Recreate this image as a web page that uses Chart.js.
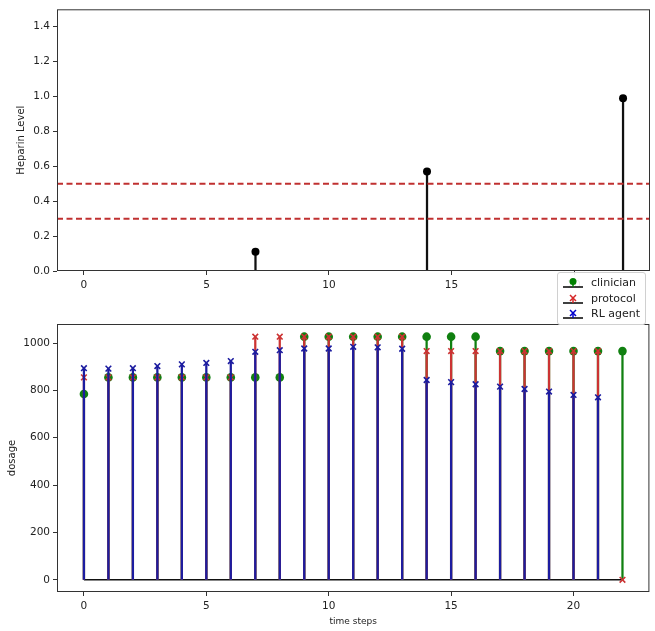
<!DOCTYPE html>
<html>
<head>
<meta charset="utf-8">
<script src="https://cdn.jsdelivr.net/npm/chart.js@4.4.0/dist/chart.umd.min.js"></script>
<style>
  body { margin: 0; background: #fff; }
  #wrap { position: relative; width: 655px; height: 631px; }
  canvas { position: absolute; left: 0; }
  #heparin { top: 0; }
  #dosage { top: 300px; }
  #legend {
    position: absolute; left: 557px; top: 272px; width: 87px;
    background: rgba(255,255,255,0.9); border: 1px solid #d0d0d0; border-radius: 3px;
    font: 11px "DejaVu Sans", sans-serif; color: #222; padding: 2px 0 2px 0; z-index: 2;
  }
  #legend div { height: 15.5px; line-height: 15.5px; white-space: nowrap; }
  #legend svg { vertical-align: middle; margin: 0 7px 0 4px; }
</style>
</head>
<body>
<div id="wrap">
  <canvas id="heparin" width="655" height="300"></canvas>
  <canvas id="dosage" width="655" height="331"></canvas>
  <div id="legend">
    <div><svg width="22" height="12"><line x1="1" y1="10" x2="21" y2="10" stroke="#000" stroke-width="1.5"/><line x1="11" y1="5" x2="11" y2="10" stroke="#008000" stroke-width="1.5"/><circle cx="11" cy="4.5" r="3.5" fill="#008000"/></svg>clinician</div>
    <div><svg width="22" height="12"><line x1="1" y1="10" x2="21" y2="10" stroke="#000" stroke-width="1.5"/><line x1="11" y1="5" x2="11" y2="10" stroke="#d62728" stroke-width="1.5"/><path d="M8 2 L14 8 M14 2 L8 8" stroke="#d62728" stroke-width="1.5"/></svg>protocol</div>
    <div><svg width="22" height="12"><line x1="1" y1="10" x2="21" y2="10" stroke="#000" stroke-width="1.5"/><line x1="11" y1="5" x2="11" y2="10" stroke="#0000cc" stroke-width="1.5"/><path d="M8 2 L14 8 M14 2 L8 8" stroke="#0000cc" stroke-width="1.5"/></svg>RL agent</div>
  </div>
</div>
<script>
// time axis
const xTicks = [0, 5, 10, 15, 20];
const steps = [0, 1, 2, 3, 4, 5, 6, 7, 8, 9, 10, 11, 12, 13, 14, 15, 16, 17, 18, 19, 20, 21, 22];

// heparin measurements (only at some steps)
const heparinSteps = [7, 14, 22];
const heparinLevel = [0.11, 0.57, 0.99];
const heparinTicks = [0, 0.2, 0.4, 0.6, 0.8, 1.0, 1.2, 1.4];
const targetRange = [0.3, 0.5];

// dosage per step
const clinician = [785, 855, 855, 855, 855, 855, 855, 855, 855, 1027, 1027, 1027, 1027, 1027,
  1027, 1027, 1027, 966, 966, 966, 966, 966, 966];
const protocol = [855, 855, 855, 855, 855, 855, 855, 1027, 1027, 1027, 1027, 1027, 1027, 1027,
  966, 966, 966, 966, 966, 966, 966, 966, 0];
const rlAgent = [894, 892, 894, 903, 910, 916, 924, 963, 970, 977, 977, 984, 982, 976,
  844, 835, 826, 816, 806, 795, 781, 771];
const dosageTicks = [0, 200, 400, 600, 800, 1000];

const GREEN = '#108010';
const RED = '#cc3333';
const BLUE = '#1c1ca0';
const FONT = { family: 'DejaVu Sans', size: 10.5 };

const pts = (xs, ys) => ys.map((y, i) => ({ x: xs[i], y }));

// matplotlib-like frame around the plot area
const boxPlugin = {
  id: 'box',
  afterDatasetsDraw(chart) {
    const { ctx, chartArea: a } = chart;
    ctx.save();
    ctx.strokeStyle = '#333';
    ctx.lineWidth = 1;
    ctx.strokeRect(a.left + 0.5, a.top + 0.5, a.right - a.left - 1, a.bottom - a.top - 1);
    ctx.restore();
  }
};

function xAxis(height, title) {
  return {
    type: 'linear', min: -1.1, max: 23.1, offset: false,
    grid: { offset: false, drawOnChartArea: false, drawTicks: true, tickLength: 4, color: '#333' },
    border: { display: false },
    ticks: { font: FONT, color: '#222', padding: 4 },
    afterBuildTicks: s => { s.ticks = xTicks.map(v => ({ value: v })); },
    afterFit: s => { s.height = height; },
    title: title
  };
}

function yAxis(min, max, ticks, fmt, title, pad) {
  return {
    min, max,
    grid: { drawOnChartArea: false, drawTicks: true, tickLength: 4, color: '#333' },
    border: { display: false },
    ticks: { font: FONT, color: '#222', padding: 3, callback: fmt },
    afterBuildTicks: s => { s.ticks = ticks.map(v => ({ value: v })); },
    afterFit: s => { s.width = 57; },
    title: { display: true, text: title, font: { family: 'DejaVu Sans', size: 10 }, color: '#222',
      padding: { top: pad, bottom: 0 } }
  };
}

const common = {
  responsive: false,
  animation: false,
  plugins: { legend: { display: false }, tooltip: { enabled: false } }
};

function stem(xs, ys, color, order) {
  return { type: 'bar', data: pts(xs, ys), backgroundColor: color, borderWidth: 0,
    barThickness: 1.6, grouped: false, order };
}
function markers(xs, ys, color, style, r, order) {
  return { type: 'scatter', data: pts(xs, ys), pointStyle: style, pointRadius: r,
    backgroundColor: color, borderColor: color, borderWidth: style === 'circle' ? 0 : 1.6, order };
}
function hline(x0, x1, y, color, width, dash, order) {
  return { type: 'line', data: [{ x: x0, y }, { x: x1, y }], borderColor: color, borderWidth: width,
    borderDash: dash, pointRadius: 0, order };
}

new Chart(document.getElementById('heparin'), {
  type: 'bar',
  data: {
    datasets: [
      hline(-1.1, 23.1, targetRange[1], '#c03030', 2, [6, 3.5], 0),
      hline(-1.1, 23.1, targetRange[0], '#c03030', 2, [6, 3.5], 0),
      markers(heparinSteps, heparinLevel, '#000', 'circle', 4, 1),
      stem(heparinSteps, heparinLevel, '#111', 2),
      hline(steps[0], steps[steps.length - 1], 0, '#111', 2, [], 3)
    ]
  },
  options: {
    ...common,
    layout: { padding: { top: 3, right: 5, left: 0, bottom: 0 } },
    scales: {
      x: xAxis(29, { display: false }),
      y: yAxis(0, 1.5, heparinTicks, v => v.toFixed(1), 'Heparin Level', 15)
    }
  },
  plugins: [boxPlugin]
});

new Chart(document.getElementById('dosage'), {
  type: 'bar',
  data: {
    datasets: [
      hline(steps[0], steps[steps.length - 1], 0, '#111', 1.6, [], 10),
      stem(steps, clinician, GREEN, 9),
      markers(steps, clinician, GREEN, 'circle', 4.3, 8),
      stem(steps, protocol, RED, 7),
      markers(steps, protocol, RED, 'crossRot', 4, 6),
      stem(steps, rlAgent, BLUE, 5),
      markers(steps, rlAgent, BLUE, 'crossRot', 4, 4)
    ]
  },
  options: {
    ...common,
    layout: { padding: { top: 24, right: 5, left: 0, bottom: 0 } },
    scales: {
      x: xAxis(39, { display: true, text: 'time steps', font: { family: 'DejaVu Sans', size: 9 },
        color: '#222', padding: { top: 2, bottom: 4 } }),
      y: yAxis(-51.5, 1080.5, dosageTicks, v => String(v), 'dosage', 6)
    }
  },
  plugins: [boxPlugin]
});
</script>
</body>
</html>
